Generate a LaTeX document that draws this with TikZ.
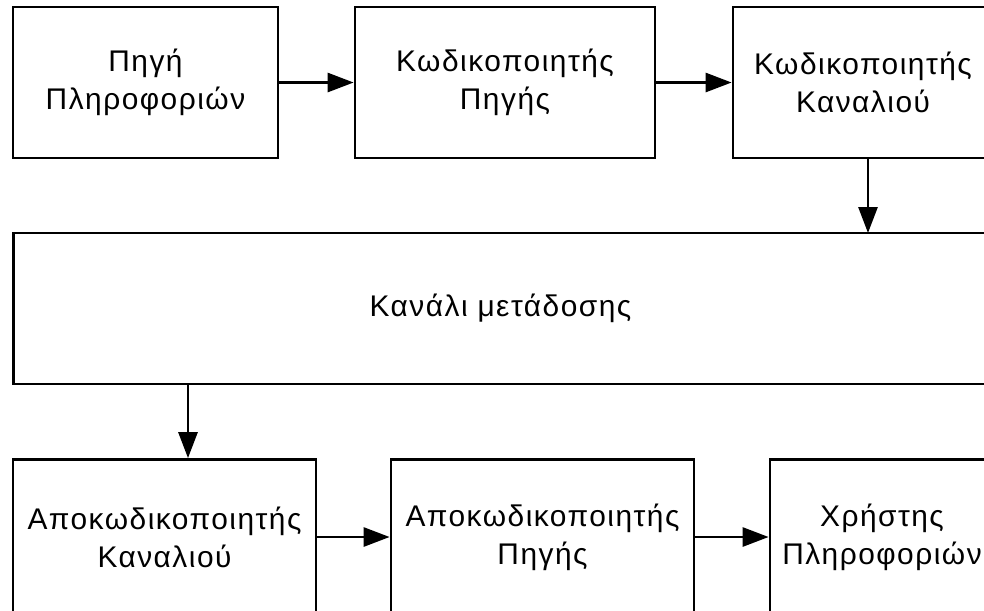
\documentclass[tikz,border=0pt]{standalone}
\usepackage{fontspec}
\setmainfont{Liberation Sans}[LetterSpace=5]
\usetikzlibrary{arrows.meta, positioning}

\tikzset{
  block/.style={draw, line width=1.6pt, align=center, inner sep=0pt,
    font=\fontsize{17}{21.5}\selectfont, minimum height=3.02cm},
  flow/.style={line width=1.6pt, -{Triangle[length=0.52cm, width=0.38cm]}}
}

\begin{document}
\begin{tikzpicture}[x=0.02cm, y=-0.02cm]
	\useasboundingbox (0,0) rectangle (984,610);
	\clip (0,0) rectangle (984,610);
	
	\node[block, minimum width=5.3cm] (source) at (145.5,82.5) {Πηγή\\Πληροφοριών};
	\node[block, minimum width=6.0cm] (srcenc) at (505,82.5) {Κωδικοποιητής\\Πηγής};
	\node[block, minimum width=5.2cm] (chenc) at (863,82.5) {Κωδικοποιητής\\Καναλιού};
	
	\node[block, minimum width=19.5cm] (channel) at (500.5,308.5) {Κανάλι μετάδοσης};
	
	\node[block, minimum width=6.06cm, minimum height=3.1cm] (chdec) at (164.5,537) {Αποκωδικοποιητής\\Καναλιού};
	\node[block, minimum width=6.06cm, minimum height=3.1cm] (srcdec) at (542.5,537) {Αποκωδικοποιητής\\Πηγής};
	\node[block, minimum width=4.48cm, minimum height=3.1cm] (user) at (882,537) {Χρήστης\\Πληροφοριών};
	
	\coordinate (chin) at (868,233);
	\coordinate (chout) at (188,384);
	
	\draw[flow] (source) -- (srcenc);
	\draw[flow] (srcenc) -- (chenc);
	\draw[flow] (chenc.south -| chin) -- (chin);
	\draw[flow] (chout) -- (chout |- chdec.north);
	\draw[flow] (chdec) -- (srcdec);
	\draw[flow] (srcdec) -- (user);
\end{tikzpicture}
\end{document}
